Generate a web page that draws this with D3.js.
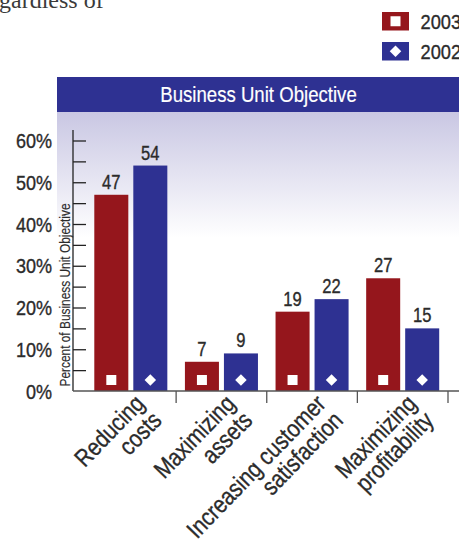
<!DOCTYPE html>
<html>
<head>
<meta charset="utf-8">
<script src="https://cdn.jsdelivr.net/npm/d3@7/dist/d3.min.js"></script>
<style>
  html, body { margin: 0; padding: 0; background: #fff; }
  svg { display: block; }
  text { font-family: "Liberation Sans", Arial, sans-serif; }
</style>
</head>
<body>
<svg id="chart" width="459" height="539"></svg>
<script>
// Business unit objectives, percent of respondents
const categories = ["Reducing costs", "Maximizing assets", "Increasing customer satisfaction", "Maximizing profitability"];
const categoryLines = [["Reducing", "costs"], ["Maximizing", "assets"], ["Increasing customer", "satisfaction"], ["Maximizing", "profitability"]];
const seriesNames = ["2003", "2002"];
const values2003 = [47, 7, 19, 27];
const values2002 = [54, 9, 22, 15];
const yTickValues = [0, 10, 20, 30, 40, 50, 60];
const yTickLabels = ["0%", "10%", "20%", "30%", "40%", "50%", "60%"];
const chartTitle = "Business Unit Objective";
const yAxisTitle = "Percent of Business Unit Objective";

const red = "#95161c", blue = "#2e3192", ink = "#2b2b2b";
const svg = d3.select("#chart");

// condensed text: a group that is positioned, optionally rotated, then squeezed horizontally
function narrowText(parent, x, y, size, anchor, str, rotate = 0, sx = 0.85, fill = ink) {
  const g = parent.append("g").attr("transform", `translate(${x},${y}) rotate(${rotate}) scale(${sx},1)`);
  return g.append("text").attr("font-size", size).attr("text-anchor", anchor)
    .attr("fill", fill).attr("stroke", fill).attr("stroke-width", 0.35).text(str);
}

// background gradient below the title band
const defs = svg.append("defs");
const grad = defs.append("linearGradient").attr("id", "bg").attr("x1", 0).attr("y1", 0).attr("x2", 0).attr("y2", 1);
grad.append("stop").attr("offset", "0%").attr("stop-color", "#c9c7e3");
grad.append("stop").attr("offset", "100%").attr("stop-color", "#ffffff");

// scales
const x0 = d3.scaleBand().domain(categories).range([85.5, 448]).paddingInner(0).paddingOuter(0);
const x1 = d3.scaleBand().domain(seriesNames).range([0, x0.bandwidth()]).paddingInner(0.128).paddingOuter(0.2255);
const y = d3.scaleLinear().domain([0, 60]).range([391, 140.5]);
const color = d3.scaleOrdinal().domain(seriesNames).range([red, blue]);

const markerPath = i => i === 0
  ? d3.symbol().type(d3.symbolSquare).size(100)()
  : d3.symbol().type(d3.symbolSquare).size(66)();
const markerRot = i => (i === 0 ? 0 : 45);

// partial paragraph text at the top
svg.append("text").attr("x", -1).attr("y", 7.5)
  .style("font-family", "'Liberation Serif', serif").attr("font-size", 24).attr("fill", "#3a3a3a")
  .text("gardless of");

// gradient panel and title band
svg.append("rect").attr("x", 57).attr("y", 112).attr("width", 402).attr("height", 126).attr("fill", "url(#bg)");
svg.append("rect").attr("x", 57).attr("y", 77).attr("width", 402).attr("height", 35).attr("fill", blue);
narrowText(svg, 258.5, 102, 23, "middle", chartTitle, 0, 0.81, "#fff").attr("stroke-width", 0.2);

// legend
seriesNames.forEach((s, i) => {
  const g = svg.append("g").attr("transform", `translate(382,${12 + i * 30})`);
  g.append("rect").attr("width", 27).attr("height", 18.5).attr("fill", color(s));
  g.append("path").attr("d", markerPath(i))
    .attr("transform", `translate(13.5,9.25) rotate(${markerRot(i)})`).attr("fill", "#fff");
  narrowText(g, 38.5, 17, 21, "start", s, 0, 0.87);
});

// bars, markers and value labels
const seriesData = [values2003, values2002];
const groups = svg.append("g").selectAll("g").data(categories).join("g")
  .attr("transform", d => `translate(${x0(d)},0)`);
groups.each(function (cat, ci) {
  const g = d3.select(this);
  seriesNames.forEach((s, si) => {
    const v = seriesData[si][ci];
    const bx = x1(s), bw = x1.bandwidth();
    g.append("rect").attr("x", bx).attr("y", y(v)).attr("width", bw).attr("height", y(0) - y(v)).attr("fill", color(s));
    g.append("path").attr("d", markerPath(si))
      .attr("transform", `translate(${bx + bw / 2},380) rotate(${markerRot(si)})`).attr("fill", "#fff");
    narrowText(g, bx + bw / 2, y(v) - 6, 19.5, "middle", v, 0, 0.85);
  });
});

// y axis: ticks every 5%, labels every 10%
const yAxis = d3.axisRight(y).tickValues(d3.range(5, 61, 5)).tickSize(13).tickFormat("");
const ya = svg.append("g").attr("transform", "translate(73,0)").call(yAxis);
ya.select(".domain").remove();
ya.selectAll("line").attr("stroke", "#222").attr("stroke-width", 1.3);
svg.append("line").attr("x1", 73).attr("x2", 73).attr("y1", 130).attr("y2", 391).attr("stroke", "#222").attr("stroke-width", 1.3);
yTickValues.forEach((v, i) => narrowText(svg, 52, y(v) + 7.5, 20.5, "end", yTickLabels[i], 0, 0.88));

// y axis title
narrowText(svg, 70, 295, 14, "middle", yAxisTitle, -90, 0.85).attr("stroke-width", 0.15);

// x axis baseline and separators between categories
svg.append("line").attr("x1", 73).attr("x2", 459).attr("y1", 391).attr("y2", 391).attr("stroke", "#555").attr("stroke-width", 1.3);
const seps = categories.map(c => x0(c) + x0.bandwidth());
svg.selectAll(".sep").data(seps).join("line").attr("class", "sep")
  .attr("x1", d => d).attr("x2", d => d).attr("y1", 391).attr("y2", 403).attr("stroke", "#555").attr("stroke-width", 1.3);

// rotated two-line category labels
categories.forEach((c, i) => {
  const cx = x0(c) + x0.bandwidth() / 2;
  const g = svg.append("g").attr("transform", `translate(${cx + 15},405) rotate(-46) scale(0.85,1)`);
  const t = g.append("text").attr("font-size", 24.5).attr("fill", ink).attr("stroke", ink).attr("stroke-width", 0.35)
    .attr("text-anchor", "end");
  categoryLines[i].forEach((line, li) => {
    t.append("tspan").attr("x", 0).attr("y", li * 24).text(line);
  });
});
</script>
</body>
</html>
